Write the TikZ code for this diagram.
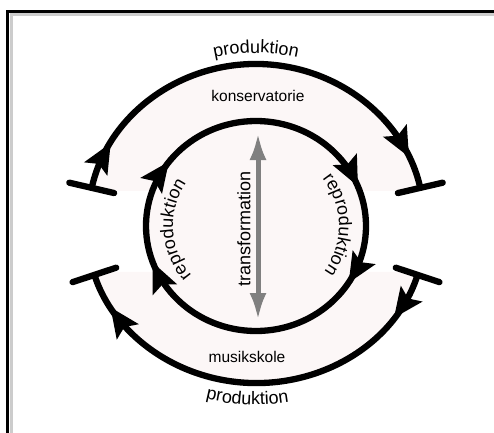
\documentclass[tikz,border=0pt]{standalone}
\usepackage{fontspec}
\setmainfont{Liberation Sans}
\usetikzlibrary{arrows.meta,decorations.text,calc}
\definecolor{tint}{RGB}{252,247,247}
\definecolor{arrowgray}{RGB}{128,128,128}
% arrow head on a clockwise elliptical path: #1 angle, #2 x radius, #3 y radius
\newcommand{\headat}[3]{%
  \path ($(C)+(#1:#2pt and #3pt)$) coordinate (hd);
  \fill[black, shift={(hd)}, rotate={atan2(-#3*cos(#1), #2*sin(#1))}]
    (5pt,0pt) -- (-25pt,13.5pt) -- (-19pt,0pt) -- (-25pt,-13.5pt) -- cycle;}
\begin{document}
\begin{tikzpicture}[x=1pt,y=1pt,
  flow/.style={line width=6.3pt},
  big/.style={font=\fontsize{18}{20}\selectfont},
  small/.style={font=\fontsize{15.5}{18}\selectfont},
]
\useasboundingbox (0,0) rectangle (494,432);
% frame
\draw[gray!40, line width=3pt] (11,-5) -- (11,417.5) -- (500,417.5);
\draw[line width=3pt] (7.5,-5) -- (7.5,420.5) -- (500,420.5);

\coordinate (C) at (256,206);

% light fills
\fill[tint] ($(C)+(167.5:169pt and 162pt)$) arc[start angle=167.5,end angle=12.5,x radius=169pt,y radius=162pt] -- cycle;
\fill[tint] ($(C)+(197:170pt and 157pt)$) arc[start angle=197,end angle=343,x radius=170pt,y radius=157pt] -- cycle;
\fill[tint] (C) ellipse[x radius=110pt, y radius=105pt];

% top outer arc (konservatorie)
\draw[flow, {Bar[width=46pt,round]}-{Bar[width=46pt,round]}]
  ($(C)+(167.5:169pt and 162pt)$) coordinate (tl)
  arc[start angle=167.5,end angle=12.5,x radius=169pt,y radius=162pt] coordinate (tr);
\headat{151}{169}{162}
\headat{27}{169}{162}

% bottom outer arc (musikskole)
\draw[flow, {Bar[width=46pt,round]}-{Bar[width=46pt,round]}]
  ($(C)+(343:170pt and 157pt)$) coordinate (br)
  arc[start angle=343,end angle=197,x radius=170pt,y radius=157pt] coordinate (bl);
\headat{326}{170}{157}
\headat{213}{170}{157}

% inner circle
\draw[flow] (C) ellipse[x radius=110pt, y radius=105pt];
\headat{25}{110}{105}
\headat{-30}{110}{105}
\headat{203}{110}{105}
\headat{145}{110}{105}

% gray double arrow
\coordinate (gt) at (258,299);
\coordinate (gb) at (258,112);
\draw[line width=5pt, arrowgray, {Latex[length=27pt,width=17pt]}-{Latex[length=27pt,width=17pt]}] (gt) -- (gb);

% labels
\node[small, anchor=base] (kons) at (258,331) {konservatorie};
\node[small, anchor=base] (musik) at (247,70) {musikskole};
\node[big, rotate=90, inner sep=0pt] (trans) at (244,203) {transformation};

% curved labels
\path[decorate, decoration={text along path, text align=center,
  text={|\fontsize{18}{20}\selectfont|produktion}}]
  ($(C)+(140:180pt and 173pt)$) arc[start angle=140,end angle=40,x radius=180pt,y radius=173pt];
\path[decorate, decoration={text along path, text align=center,
  text={|\fontsize{18}{20}\selectfont|produktion}}]
  ($(C)+(237.3:192pt and 179pt)$) arc[start angle=237.3,end angle=297.3,x radius=192pt,y radius=179pt];
\path[decorate, decoration={text along path, text align=center,
  text={|\fontsize{18}{20}\selectfont|reproduktion}}]
  ($(C)+(243:83pt and 79pt)$) arc[start angle=243,end angle=123,x radius=83pt,y radius=79pt];
\path[decorate, decoration={text along path, text align=center,
  text={|\fontsize{18}{20}\selectfont|reproduktion}}]
  ($(C)+(61:83pt and 79pt)$) arc[start angle=61,end angle=-59,x radius=83pt,y radius=79pt];
\end{tikzpicture}
\end{document}
